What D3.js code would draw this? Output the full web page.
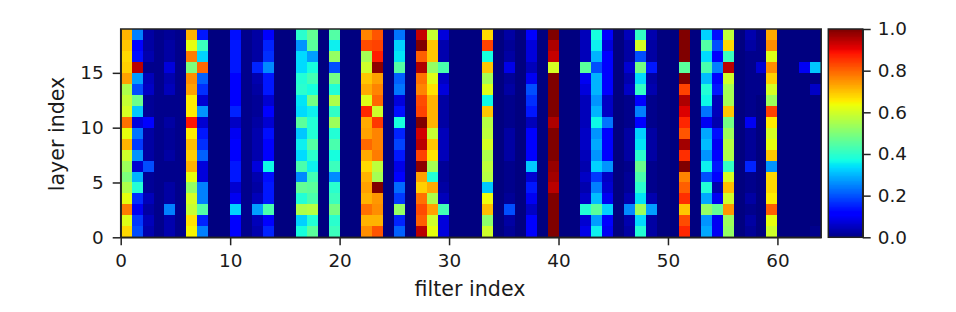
<!DOCTYPE html>
<html>
<head>
<meta charset="utf-8">
<script src="https://cdn.jsdelivr.net/npm/d3@7"></script>
<style>
  html, body { margin: 0; padding: 0; background: #fff; }
  svg { display: block; }
  text { font-family: "DejaVu Sans", sans-serif; fill: #1a1a1a; }
  .axis text { font-size: 18.4px; }
  .label { font-size: 20.6px; }
  .axis path, .axis line { stroke: #222; stroke-width: 1.5; }
</style>
</head>
<body>
<script>
// every column is listed top row first (layer 18 down to layer 0)
var empty = [0,0,0,0,0,0,0,0,0,0,0,0,0,0,0,0,0,0,0];
var low = [.01,.01,.01,.01,.01,.01,.01,.01,.01,.01,.01,.01,.01,.01,.01,.01,.01,.01,.01];
var f0 = [.72,.70,.68,.69,.74,.56,.59,.61,.79,.63,.72,.60,.54,.50,.56,.63,.78,.62,.68];
var f1 = [.25,.11,.14,.95,.28,.20,.48,.32,.08,.24,.18,.27,.07,.30,.39,.17,.10,.18,.20];
var f2 = [.03,.03,.04,.01,.05,.06,.02,.02,.12,.03,.03,.03,.20,.02,.02,.05,.03,.05,.04];
var f4 = [.02,.03,.03,.08,.04,.05,.01,.01,.03,.02,.02,.03,.01,.01,.03,.03,.25,.04,.04];
var f6 = [.72,.63,.78,.50,.76,.74,.66,.66,.89,.66,.71,.69,.72,.63,.53,.61,.59,.67,.65];
var f7 = [.15,.42,.33,.80,.22,.17,.07,.27,.07,.15,.17,.22,.08,.08,.25,.25,.45,.16,.25];
var f10 = [.14,.15,.15,.15,.13,.12,.11,.16,.06,.10,.12,.11,.15,.15,.07,.10,.33,.11,.13];
var f12 = [.03,.03,.03,.16,.04,.03,.02,.02,.03,.04,.04,.04,.08,.04,.03,.05,.28,.05,.04];
var f13 = [.11,.16,.17,.26,.15,.15,.07,.11,.07,.14,.13,.13,.37,.14,.15,.15,.44,.12,.16];
var f16 = [.40,.27,.34,.34,.39,.40,.35,.34,.46,.32,.36,.34,.44,.26,.47,.39,.56,.33,.38];
var f17 = [.47,.46,.28,.38,.43,.38,.49,.36,.39,.39,.45,.40,.36,.43,.46,.44,.57,.39,.46];
var f19 = [.45,.36,.53,.20,.49,.39,.56,.41,.54,.39,.44,.38,.42,.26,.40,.42,.49,.40,.42];
var f22 = [.77,.83,.55,.60,.70,.73,.62,.87,.73,.74,.80,.73,.68,.72,.74,.72,.79,.72,.76];
var f23 = [.82,.84,.88,.99,.74,.77,.80,.60,.85,.77,.77,.78,.58,.55,1,.75,.76,.72,.82];
var f25 = [.24,.33,.35,.45,.22,.24,.08,.14,.38,.16,.19,.15,.09,.11,.23,.18,.53,.16,.22];
var f27 = [.94,1,.81,.96,.79,.77,.83,.84,1,.93,.95,.84,.99,.74,.69,.79,.83,.81,.95];
var f28 = [.59,.70,.70,.53,.62,.67,.72,.72,.72,.59,.70,.67,.55,.39,.73,.56,.74,.60,.63];
var f29 = [.08,.04,.04,.44,.06,.08,.03,.03,.03,.05,.05,.05,.02,.02,.03,.05,.43,.08,.08];
var f33 = [.68,.84,.38,.70,.55,.62,.37,.70,.57,.58,.61,.56,.58,.57,.32,.64,.71,.52,.60];
var f35 = [.03,.02,.03,.09,.02,.03,.01,.01,.01,.03,.03,.03,.01,.01,.01,.02,.20,.03,.02];
var f37 = [.11,.08,.08,.05,.10,.20,.17,.15,.05,.11,.11,.11,.32,.07,.15,.10,.06,.11,.11];
var f39 = [1,.96,.94,.61,1,1,1,1,.96,1,1,1,.98,.97,.95,1,1,1,1];
var f42 = [.05,.05,.05,.46,.10,.08,.05,.05,.05,.06,.06,.05,.04,.06,.04,.06,.39,.07,.09];
var f43 = [.38,.36,.30,.20,.30,.30,.27,.30,.37,.27,.29,.27,.33,.18,.25,.31,.46,.28,.36];
var f44 = [.11,.08,.11,.12,.11,.11,.06,.06,.24,.11,.11,.12,.27,.06,.07,.10,.33,.11,.10];
var f46 = [.05,.03,.03,.07,.04,.06,.01,.01,.01,.03,.03,.03,.01,.02,.02,.04,.26,.04,.03];
var f47 = [.41,.61,.20,.49,.34,.41,.11,.25,.11,.33,.35,.40,.48,.44,.40,.35,.54,.34,.39];
var f48 = [.04,.03,.03,.15,.03,.04,.01,.01,.01,.03,.03,.03,.01,.01,.01,.04,.28,.03,.03];
var f51 = [1,1,1,.46,1,.84,.96,.92,.87,.82,.97,.86,1,.77,.81,.86,.70,.83,.87];
var f53 = [.33,.45,.34,.44,.31,.39,.37,.24,.10,.29,.31,.27,.36,.20,.39,.29,.53,.27,.29];
var f54 = [.14,.20,.11,.25,.12,.15,.05,.05,.04,.14,.10,.11,.15,.11,.04,.10,.47,.10,.10];
var f55 = [.58,.68,.42,.95,.60,.55,.55,.70,.49,.54,.57,.56,.41,.61,.71,.60,.75,.54,.53];
var f57 = [.04,.03,.01,.01,.01,.01,.01,.01,.10,.02,.02,.02,.16,.01,.01,.03,.01,.03,.02];
var f58 = [.01,.01,.01,.07,.01,.01,0,0,0,0,0,0,0,0,0,0,0,0,0];
var f59 = [.73,.76,.62,.76,.69,.61,.54,.84,.66,.61,.63,.70,.27,.68,.68,.66,.81,.63,.60];
var f62 = [0,0,0,.10,0,0,0,0,0,0,0,0,0,0,0,0,0,0,0];
var f63 = [0,0,0,.32,0,.06,0,0,0,0,0,0,0,0,0,0,0,0,.01];

var filters = [
  f0, f1, f2, low, f4, low, f6, f7, empty, empty,
  f10, low, f12, f13, empty, empty, f16, f17, empty, f19,
  empty, empty, f22, f23, empty, f25, empty, f27, f28, f29,
  empty, empty, empty, f33, empty, f35, empty, f37, empty, f39,
  empty, empty, f42, f43, f44, empty, f46, f47, f48, empty,
  empty, f51, empty, f53, f54, f55, empty, f57, f58, f59,
  empty, empty, f62, f63
];

var xTicks = [0, 10, 20, 30, 40, 50, 60];
var yTicks = [0, 5, 10, 15];
var barTicks = [0, 0.2, 0.4, 0.6, 0.8, 1];

var w = 956;
var h = 312;
var left = 120.7, right = 821.2, top_ = 29, bottom = 237.3;
var barLeft = 828.3, barRight = 862.7;

var svg = d3.select("body").append("svg")
  .attr("width", w)
  .attr("height", h);

var defs = svg.append("defs");
defs.append("filter").attr("id", "soft")
  .attr("x", "-1%").attr("y", "-1%").attr("width", "102%").attr("height", "102%")
  .append("feGaussianBlur").attr("stdDeviation", 0.45);
defs.append("clipPath").attr("id", "plotClip")
  .append("rect")
  .attr("x", left).attr("y", top_)
  .attr("width", right - left).attr("height", bottom - top_);

var xScale = d3.scaleLinear().domain([0, 64]).range([left, right]);
var yScale = d3.scaleLinear().domain([0, 19]).range([bottom, top_]);
var barScale = d3.scaleLinear().domain([0, 1]).range([bottom, top_]);

// matplotlib jet, one channel at a time
var red = d3.scaleLinear().domain([0, .35, .66, .89, 1]).range([0, 0, 255, 255, 128]);
var green = d3.scaleLinear().domain([0, .125, .375, .64, .91, 1]).range([0, 0, 255, 255, 0, 0]);
var blue = d3.scaleLinear().domain([0, .11, .34, .65, 1]).range([128, 255, 255, 0, 0]);
function jet(v) {
  return d3.rgb(red(v), green(v), blue(v)).formatHex();
}

var cells = [];
filters.forEach(function (col, i) {
  col.forEach(function (v, r) {
    cells.push({ filter: i, layer: 18 - r, value: v });
  });
});

svg.append("g")
  .attr("clip-path", "url(#plotClip)")
  .append("g")
  .attr("filter", "url(#soft)")
  .attr("shape-rendering", "crispEdges")
  .selectAll("rect")
  .data(cells)
  .enter()
  .append("rect")
  .attr("x", d => xScale(d.filter))
  .attr("y", d => yScale(d.layer + 1))
  .attr("width", d => xScale(d.filter + 1) - xScale(d.filter))
  .attr("height", d => yScale(d.layer) - yScale(d.layer + 1))
  .attr("fill", d => jet(d.value));

// colorbar
var steps = d3.range(256).map(i => i / 256);
svg.append("g")
  .attr("shape-rendering", "crispEdges")
  .selectAll("rect")
  .data(steps)
  .enter()
  .append("rect")
  .attr("x", barLeft)
  .attr("y", d => barScale(d + 1 / 256))
  .attr("width", barRight - barLeft)
  .attr("height", d => barScale(d) - barScale(d + 1 / 256) + 1)
  .attr("fill", d => jet(d + 1 / 512));

var xAxis = d3.axisBottom(xScale).tickValues(xTicks).tickFormat(d3.format("d")).tickSizeInner(8).tickSizeOuter(0).tickPadding(9);
var yAxis = d3.axisLeft(yScale).tickValues(yTicks).tickFormat(d3.format("d")).tickSizeInner(8).tickSizeOuter(0).tickPadding(9);
var barAxis = d3.axisRight(barScale).tickValues(barTicks).tickFormat(d3.format(".1f")).tickSizeInner(8).tickSizeOuter(0).tickPadding(7);

function styleAxis(g) {
  g.attr("class", "axis").attr("font-size", null).attr("font-family", null);
  g.selectAll("text").attr("fill", null);
  g.selectAll("line").attr("stroke", null);
  g.select(".domain").attr("stroke", null);
}

svg.append("g")
  .attr("transform", `translate(0, ${bottom})`)
  .call(xAxis).call(styleAxis);
svg.append("g")
  .attr("transform", `translate(${left}, 0)`)
  .call(yAxis).call(styleAxis);
svg.append("g")
  .attr("transform", `translate(${barRight}, 0)`)
  .call(barAxis).call(styleAxis);

// frames
[[left, right], [barLeft, barRight]].forEach(function (edge) {
  svg.append("rect")
    .attr("x", edge[0]).attr("y", top_)
    .attr("width", edge[1] - edge[0]).attr("height", bottom - top_)
    .attr("fill", "none").attr("stroke", "#222").attr("stroke-width", 1.5);
});

svg.append("text")
  .attr("class", "label")
  .attr("x", 470)
  .attr("y", 296)
  .attr("text-anchor", "middle")
  .text("filter index");

svg.append("text")
  .attr("class", "label")
  .attr("transform", "translate(64, 134) rotate(-90)")
  .attr("text-anchor", "middle")
  .text("layer index");
</script>
</body>
</html>
